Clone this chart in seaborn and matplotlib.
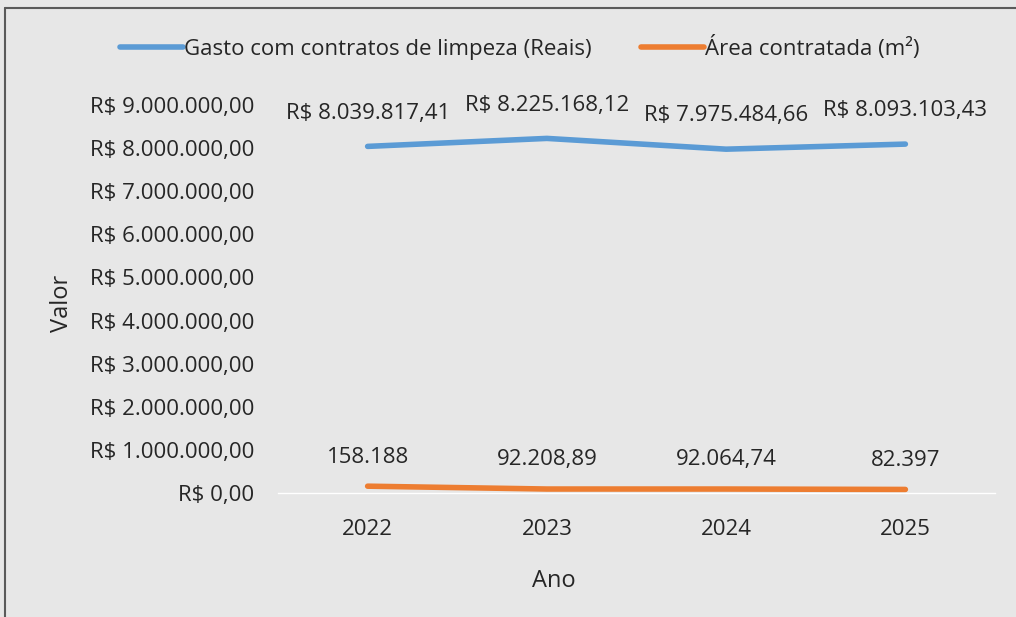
import matplotlib
matplotlib.use("Agg")
import matplotlib.pyplot as plt
import matplotlib.ticker as mticker
import matplotlib.lines as mlines
import seaborn as sns
import pandas as pd

anos = ["2022", "2023", "2024", "2025"]
gasto = [8039817.41, 8225168.12, 7975484.66, 8093103.43]
area = [158188, 92208.89, 92064.74, 82397]
gasto_labels = ["R$ 8.039.817,41", "R$ 8.225.168,12", "R$ 7.975.484,66", "R$ 8.093.103,43"]
area_labels = ["158.188", "92.208,89", "92.064,74", "82.397"]
serie_gasto = "Gasto com contratos de limpeza (Reais)"
serie_area = "Área contratada (m²)"

df = pd.DataFrame({
    "Ano": anos * 2,
    "Valor": gasto + area,
    "Série": [serie_gasto] * 4 + [serie_area] * 4,
})

sns.set_theme(style="white")
plt.rcParams["font.family"] = ["Open Sans", "DejaVu Sans"]

BG = "#e7e7e7"
blue = "#5b9bd5"
orange = "#ed7d31"
TXT = "#262626"
FS = 16

fig = plt.figure(figsize=(10.16, 6.17), dpi=100, facecolor=BG)
ax = fig.add_axes([278/1016, 1-493/617, (995-278)/1016, (493-105)/617])
ax.set_facecolor(BG)

sns.lineplot(data=df, x="Ano", y="Valor", hue="Série",
             palette={serie_gasto: blue, serie_area: orange},
             linewidth=4, ax=ax, legend=False, solid_capstyle="round")

ax.set_xlim(-0.5, 3.5)
ax.set_ylim(0, 9e6)
ax.yaxis.set_major_locator(mticker.MultipleLocator(1e6))
def fmt(v, pos):
    s = f"{v:,.2f}"
    s = s.replace(",", "X").replace(".", ",").replace("X", ".")
    return "R$ " + s
ax.yaxis.set_major_formatter(mticker.FuncFormatter(fmt))
ax.tick_params(axis="y", length=0, labelsize=FS, colors=TXT, pad=17)
ax.tick_params(axis="x", length=0, labelsize=FS, colors=TXT, pad=19)
for sp in ["top", "right", "left"]:
    ax.spines[sp].set_visible(False)
ax.spines["bottom"].set_color("white")
ax.spines["bottom"].set_linewidth(1)
ax.grid(False)

ax.set_xlabel("Ano", fontsize=17, color=TXT)
ax.xaxis.set_label_coords(0.385, -0.197)
ax.set_ylabel("Valor", fontsize=17, color=TXT)
ax.yaxis.set_label_coords(-0.284, 0.49)

for i, (v, lab) in enumerate(zip(gasto, gasto_labels)):
    ax.annotate(lab, (i, v), xytext=(0, 24), textcoords="offset points",
                ha="center", va="center", fontsize=FS, color=TXT)
for i, (v, lab) in enumerate(zip(area, area_labels)):
    ax.annotate(lab, (i, v), xytext=(0, 21), textcoords="offset points",
                ha="center", va="center", fontsize=FS, color=TXT)

handles = [mlines.Line2D([], [], color=blue, lw=4, solid_capstyle="round"),
           mlines.Line2D([], [], color=orange, lw=4, solid_capstyle="round")]
fig.legend(handles, [serie_gasto, serie_area], loc="center",
           bbox_to_anchor=(520/1016, 1-48/617), ncol=2, frameon=False,
           fontsize=FS, handlelength=2.85, handletextpad=0.05, columnspacing=2.2,
           labelcolor=TXT)

# outer border of chart area
fig.add_artist(mlines.Line2D([5/1016, 5/1016], [0, 1-8/617], transform=fig.transFigure,
                             color="#5a5a5a", lw=1.5))
fig.add_artist(mlines.Line2D([5/1016, 1], [1-8/617, 1-8/617], transform=fig.transFigure,
                             color="#5a5a5a", lw=1.5))

fig.savefig("out.png", dpi=100, facecolor=BG)
